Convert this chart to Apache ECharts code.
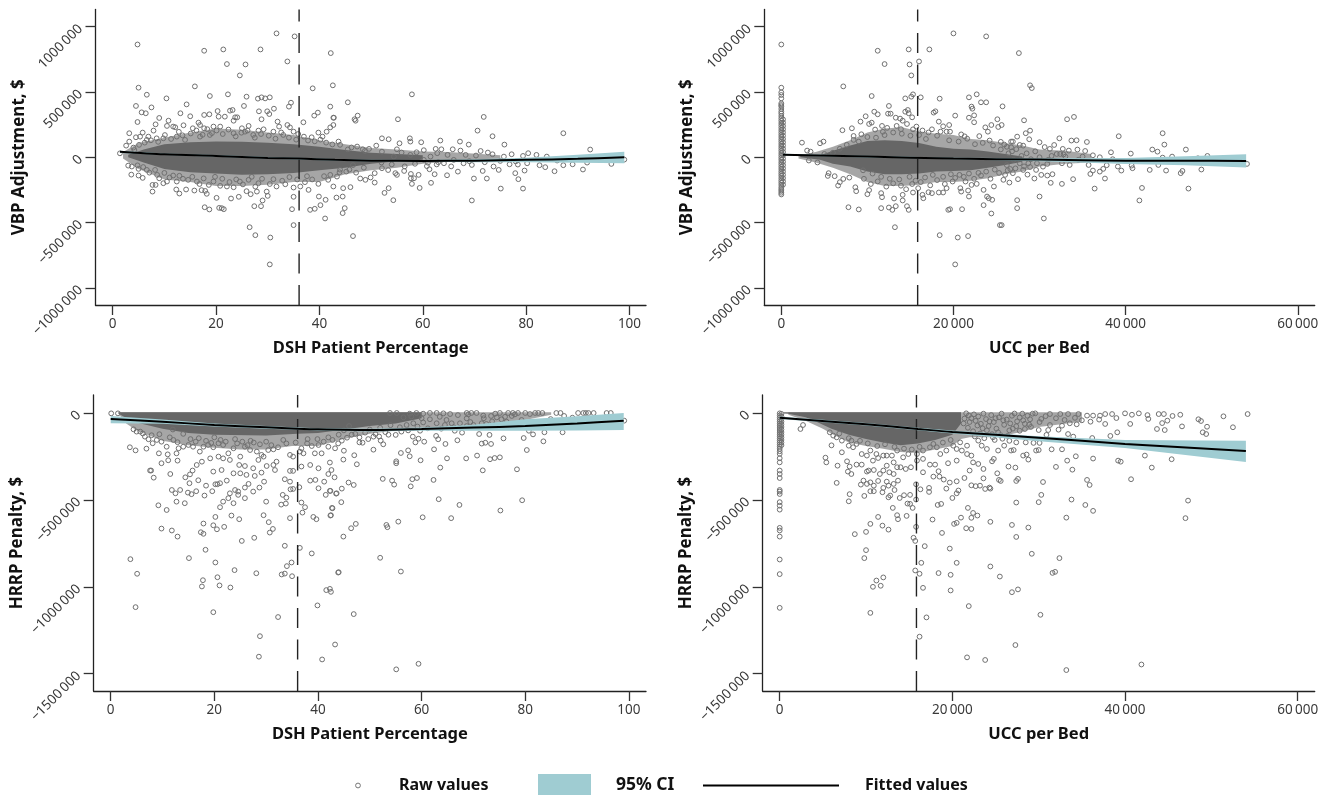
<!DOCTYPE html>
<html><head><meta charset="utf-8"><style>html,body{margin:0;padding:0;background:#fff}#c{width:1329px;height:795px}</style>
<script src="https://cdn.jsdelivr.net/npm/echarts@6/dist/echarts.min.js"></script></head><body><div id="c"></div>
<script>
// Values. Points: [x, y in $ thousands]; UCC x values are in $ thousands.
const dshVbpPoints=[[4.8,864],[5,533],[6.6,479],[7.5,382],[4.5,393],[5.6,344],[6.4,337],[4.8,270],[10.4,451],[14.3,405],[13.1,337],[15,314],[15.9,543],[17.7,816],[21.4,826],[22.1,714],[25.7,711],[24.6,627],[28.6,826],[31.7,949],[35.2,926],[33.8,734],[42.2,798],[42.6,551],[38.7,528],[18.8,469],[22.3,482],[25.9,464],[25.4,393],[28.1,449],[28.8,459],[29.5,451],[30.4,459],[28.3,352],[29.9,352],[30.3,331],[31.2,372],[34.1,388],[34.5,418],[42.1,388],[39,319],[39.7,342],[42.7,303],[57.9,482],[45.5,421],[42.8,303],[47.4,319],[46.8,291],[47,280],[55.2,291],[71.8,309],[70.6,204],[73.5,161],[75.8,97],[87.2,184],[92.4,59],[52.1,145],[53.4,138],[57.5,145],[57.6,120],[59.7,115],[63.4,128],[67.2,120],[68.9,97],[69.5,-331],[54.3,-329],[52.6,-273],[53.4,-237],[46.5,-604],[44.5,-428],[44.9,-390],[43.3,-309],[44.5,-301],[44.6,-237],[59.4,-235],[61.6,-196],[75.1,-240],[79.4,-240],[78.5,-168],[77.9,-122],[79.7,-102],[69.9,-163],[72.4,-163],[71.6,-105],[85.5,-107],[91,-94],[96.5,-51],[99,-18],[30.4,-821],[26.5,-536],[27.6,-597],[30.5,-615],[35,-520],[41.1,-469],[34.7,-398],[21.5,-398],[21.1,-390],[20.6,-388],[18.7,-400],[17.8,-383],[38.2,-403],[39.1,-395],[40.2,-367],[41.2,-326],[39.9,-301],[35,-303],[27.4,-375],[28.7,-375],[29,-331],[30,-296],[20.1,-311],[22.9,-316],[24.4,-303],[7.7,-263],[7.7,-212],[8.3,-212],[3.6,-133],[5,-140],[5.8,-158],[12.3,-247],[12.9,-278],[14.2,-247],[15.8,-255],[17.2,-252],[18.2,-280],[17.9,-258],[25.9,-260],[26.7,-283],[27.9,-263],
[1.4,30],[2.6,89],[3.2,120],[3.2,184],[4,74],[4.5,153],[5.3,158],[5.8,189],[6.9,158],[7.9,204],[8.3,252],[9,301],[10.5,240],[10.8,280],[11.7,235],[12.1,230],[13.7,245],[15.5,222],[16.6,265],[17.7,324],[18.7,329],[20.3,354],[20.5,311],[21.7,311],[22.7,357],[23.2,362],[23.7,306],[24.1,306],[23.4,280],[25,222],[26.3,240],[28.2,204],[29.2,214],[28.8,291],[31.9,273],[32.2,235],[33.8,247],[34.3,229],[36.9,268],[37,158],[38.5,153],[39.8,189],[40.6,158],[41.4,196],[42.1,229],[42.7,247],[19.5,235],[20.8,235],[23.4,184],[25.6,196],[27.2,171],[31.1,196],[33,171],[35,196],[35.9,178],[17.7,222],[16.9,247],[6.6,133],[8.5,145],[9.8,145],[12.4,158],[14,133],[16.9,158],[18.8,171],
[3,-64],[3.7,-71],[5,-89],[6.6,-97],[8.2,-97],[9,-161],[9.8,-199],[10.5,-186],[11.7,-140],[12.4,-186],[14.6,-173],[16.3,-186],[19.5,-186],[20.8,-219],[22.1,-224],[23.4,-230],[24.6,-186],[26.3,-173],[28.2,-199],[29.8,-263],[31.7,-224],[33.4,-207],[35,-232],[36.3,-224],[37.2,-191],[37.9,-250],[39.8,-204],[41.7,-173],[42.7,-224],[43.4,-148],[46,-229],[47.9,-163],[48.9,-173],[49.9,-155],[50.7,-194],[50.7,-122],[52.1,-84],[55,-135],[54.7,-122],[57.7,-128],[57.7,-161],[58.3,-161],[57.9,-204],[59.2,-135],[61.3,-92],[62.3,-130],[64.7,-138],[66.8,-110],[69.5,-59],[74.7,-97],[73.7,-71],[76.8,-54],[78.4,-56],[80.2,-46],[83.7,-76],[82.6,-61],[87.2,-61],[89,-54],[91.8,-41],
[47.3,82],[48.4,61],[49.6,64],[51,89],[52.1,43],[55,61],[55.5,107],[55.9,36],[58.8,38],[60.2,54],[62.5,64],[63.6,61],[64.8,18],[65.8,61],[67.3,51],[68.3,18],[70.3,13],[71.2,48],[72.6,36],[73.5,23],[75.7,5],[77.2,23],[79.4,10],[80.4,31],[82,18],[61.5,5],[62.8,31],[57.6,18],[54.4,5],[60.2,-20],[64.1,-46],[67.9,-46],[44,95],[45.5,60],[46.5,-60],[44,-95],[45.2,-110],[52,-40],[54,-55],[56.5,-70],[58.5,-50],[61,-42],[63,-38],[66,-20],[69,-30],[72,-38],[75,-28],[78,-32],[84,5],[86,-25],
[4.2,55],[5.1,95],[6.2,112],[7.4,130],[8.8,118],[10.1,170],[11.3,140],[12.8,195],[13.5,168],[15.1,182],[16.2,205],[17.4,172],[18.3,215],[19.2,185],[20.1,205],[21.3,178],[22.4,212],[23.8,160],[24.9,188],[26.1,205],[27.5,150],[28.7,178],[30.2,165],[31.5,142],[32.6,190],[34.1,150],[35.5,135],[37.8,128],[39.1,122],[40.2,135],[41.3,112],[42.5,98],[43.7,120],[46.2,75],[48.8,48],
[4.8,-62],[5.9,-75],[7.1,-118],[8.6,-135],[10,-120],[11,-155],[12.9,-142],[13.6,-165],[15.4,-150],[16.8,-205],[17.6,-162],[18.6,-212],[19.8,-150],[21.2,-165],[22.6,-190],[23.9,-170],[25.2,-208],[26.9,-150],[27.6,-225],[28.9,-165],[30.4,-205],[31.1,-168],[32.8,-180],[34.2,-152],[35.7,-170],[37.6,-145],[38.6,-170],[40.9,-145],[42.1,-135],[43.9,-115],[45.8,-95],[47.1,-118],[48.6,-80],[53.3,-98],[56.4,-105],[60.8,-68],[62.7,-55],[65.5,-70]];
const dshVbpCoreX=[3,6,10,15,20,25,30,35,40,45,50,55,60];
const dshVbpCoreUp=[20,60,100,115,120,118,112,100,80,55,35,25,15];
const dshVbpCoreLow=[0,-40,-90,-115,-125,-135,-130,-120,-100,-80,-50,-30,-20];
const dshVbpHaloX=[2,5,10,15,20,25,30,35,40,45,50,55,60,65,75];
const dshVbpHaloUp=[40,110,150,190,220,210,190,170,130,100,70,60,45,40,15];
const dshVbpHaloLow=[-10,-90,-170,-190,-220,-220,-210,-190,-190,-130,-100,-80,-50,-35,-20];
const dshVbpFitX=[1.4,10,20,30,36,43,50,60,70,80,90,99];
const dshVbpFitY=[43,23,10,-5,-10,-20,-26,-28,-26,-20,-12,0];
const dshVbpCiUp=[50,29,17,2,-3,-13,-20,-22,-15,-3,20,43];
const dshVbpCiLow=[33,17,3,-12,-17,-27,-32,-34,-38,-38,-42,-46];

const uccVbpPoints=[[0,864],[0,533],[0,497],[0,477],[0,451],[0,413],[0,400],[0,390],[0,370],[0,350],[0,335],[0,316],[0,298],[0,280],[0,262],[0,245],[0,226],[0,208],[0,190],[0,172],[0,155],[0,137],[0,120],[0,102],[0,85],[0,68],[0,50],[0,32],[0,15],[0,-3],[0,-20],[0,-38],[0,-55],[0,-73],[0,-90],[0,-108],[0,-125],[0,-142],[0,-160],[0,-178],[0,-195],[0,-212],[0,-230],[0,-245],[0,-258],[0,-272],[0,-285],
[0.2,290],[0.2,265],[0.2,240],[0.2,215],[0.2,190],[0.2,165],[0.2,140],[0.2,115],[0.2,90],[0.2,65],[0.2,40],[0.2,15],[0.2,-10],[0.2,-35],[0.2,-60],[0.2,-85],[0.2,-110],[0.2,-135],[0.2,-160],[0.2,-185],[0.2,-210],
[11.2,816],[14.8,826],[12,714],[14.9,711],[16,734],[15.1,627],[17.2,826],[20,949],[23.8,926],[7.2,543],[10.5,469],[15.3,482],[15.1,464],[14.4,451],[16.2,459],[18.4,449],[21.8,459],[22.7,482],[23.2,421],[23.8,421],[22.1,388],[22.2,372],[20.2,319],[21.8,303],[22.4,321],[22.4,268],[25.1,291],[23.7,229],[24,196],[24.4,247],[25.2,232],[12.5,393],[12.4,334],[12.7,334],[11.2,329],[10.8,349],[9.8,314],[9.2,273],[10.2,255],[10.5,265],[11.7,240],[7.1,207],[8.2,222],[4.9,120],[4.5,107],[2.4,112],[3,51],[3.4,43],[9.3,176],[8.4,163],[8.4,133],[14.4,349],[14.7,362],[14.8,337],[15.2,306],[14.1,280],[13.3,303],[13.8,296],[15.3,214],[17.7,342],[17.9,352],[18.3,273],[18.8,237],[19.5,247],[17.5,214],[18.5,196],[19.2,196],[19.6,196],
[20.2,-821],[13.2,-536],[18.4,-597],[20.5,-615],[21.7,-604],[25.4,-520],[24.4,-431],[23.5,-367],[21,-398],[19.6,-398],[19.4,-403],[7.8,-383],[9,-400],[11.6,-390],[12.5,-385],[12.9,-403],[13.3,-375],[14.6,-375],[14.8,-403],[13.1,-316],[14.1,-331],[14.1,-288],[11.7,-306],[11.6,-275],[10.2,-252],[10,-283],[8.7,-260],[8.6,-230],[6.6,-217],[5.4,-143],[5.5,-122],[6.2,-145],[6.8,-191],[7.2,-166],[7.9,-156],[16.5,-314],[16.4,-288],[15.3,-270],[15.9,-237],[17.1,-268],[17.5,-275],[18.3,-270],[18.8,-270],[19.2,-237],[19.9,-186],[20.9,-263],[20.8,-237],[21.8,-301],[21.7,-255],[21.4,-186],[22.1,-212],[22.7,-204],[23.5,-250],[23.9,-301],[24.1,-314],[24.5,-326],[24.7,-224],
[54.1,-51],[49.5,10],[48.8,-94],[48.4,-8],[47.3,-240],[47,59],[46.6,-105],[46.4,-122],[45.4,5],[44.7,-102],[44.5,97],[44.3,184],[44.3,-3],[43.8,-59],[43.7,43],[43.1,59],[42.8,-97],[41.9,-235],[41.6,-331],[40.8,-84],[40.7,-64],[40.6,28],[39.5,-102],[39.1,-71],[39.2,161],[38.3,38],[38.5,-15],[37.8,-61],[37.6,-163],[37.4,-89],[37,-110],[36.4,-240],[36.2,-102],[35.9,-128],[35.5,117],[35.3,48],[34.4,59],[34.3,130],[33.7,128],[34,309],[33.2,291],[33.9,-168],[32.6,-204],[31.5,-130],[31.3,-196],[30.9,-140],[30,-301],[30.5,-469],[32.3,145],[31.7,94],[32.7,64],[31.2,64],[30,115],[28.9,204],[28.4,184],[28.8,138],[28.2,283],[27.4,158],[25.7,390],[25.6,247],[27.6,798],[28.9,551],[29.1,530],[27.4,-329],[27.4,-390],[25.6,-520],[29.4,-163],[30.2,-135],[28.6,-133],[27.5,-168],[26.5,-194],[25.8,-173],[26.7,120],[26.9,120],[25.9,97],[27.7,94],[28.1,89],[26.7,76],[28.5,30],[30,0],[31.4,10],[32,25],[32.4,25],[33,5],[33.4,51],[36.2,15],[37,0],[35.7,-59],[33.5,-59],[32.6,-46],[30.9,-51],[29.7,-46],[28.7,-46],[27.7,-46],[26.9,-122],[26,-135],[28.1,-97],[29.6,-97],[26.4,30],[27,-20],[27.9,10],[29,-15],[26.2,-60],[26.6,-90],[25.5,60],[26.8,45],[28.2,-70],[31,-20],[34.5,-20],[35,5],
[3.2,-25],[4.2,-40],[5,25],[6,35],[6.8,65],[7.6,95],[9,120],[10,155],[11,150],[12,170],[13,190],[14,180],[15,165],[16,170],[16.8,140],[19.5,130],[20.6,120],[21.3,160],[22.5,100],[23.4,110],[24.6,90],[9.5,-100],[10.6,-125],[11.6,-150],[12.6,-165],[13.7,-170],[14.9,-150],[15.6,-180],[16.7,-155],[17.6,-135],[18.8,-150],[19.7,-130],[20.7,-135],[21.8,-125],[22.9,-120],[23.8,-110],[24.8,-95],
[10.9,212],[11.8,195],[12.3,225],[13.4,240],[13.9,215],[14.6,255],[15.7,235],[16.4,205],[17.1,190],[18.1,165],[20.9,175],[21.6,142],[23,162],[24.2,128],[25.5,118],[26.2,80],[27.3,62],[29.5,45],[30.6,78],[32.8,22],[9.6,-165],[10.4,-205],[11.2,-185],[12.2,-225],[13,-200],[13.9,-218],[14.5,-245],[15.2,-205],[16.2,-190],[17.3,-215],[18.1,-175],[19,-205],[20.2,-158],[21.2,-150],[22.4,-165],[23.2,-140],[24.3,-165],[25.3,-120],[26.3,-100],[27.2,-85],[28.9,-75],[30.4,-72]];
const uccVbpCoreX=[2.2,4.5,6,8,10,12,14,16,18,20,22,24,26,28];
const uccVbpCoreUp=[10,15,50,90,125,130,125,110,80,65,60,45,25,5];
const uccVbpCoreLow=[0,-20,-50,-70,-110,-130,-130,-125,-110,-105,-100,-80,-60,-35];
const uccVbpHaloX=[2,4,6,8,10,12,14,16,18,20,22,24,26,28,30,33,36];
const uccVbpHaloUp=[15,40,80,130,190,220,230,200,180,170,140,130,110,90,60,50,25];
const uccVbpHaloLow=[-10,-40,-80,-130,-190,-220,-220,-210,-190,-190,-180,-160,-130,-110,-70,-50,-40];
const uccVbpFitX=[0.2,10,20,30,40,47,54];
const uccVbpFitY=[20,5,-10,-18,-26,-27,-28];
const uccVbpCiUp=[26,11,-4,-8,-5,8,23];
const uccVbpCiLow=[14,-1,-16,-30,-51,-62,-79];

const dshHrrpPoints=[[0.1,-2],[1.4,-2],[3.7,-197],[4.8,-215],[6.9,-205],[7.8,-331],[7.6,-331],[8.3,-372],[3.8,-841],[5.1,-925],[4.8,-1117],[9.2,-531],[10.8,-558],[9.8,-665],[11.8,-676],[12.9,-711],[15.1,-835],[11.5,-351],[9.8,-289],[11.1,-272],[12.9,-274],[9.3,-232],[11,-238],[12.7,-232],[11.8,-443],[12.5,-462],[13.4,-443],[12.7,-510],[14.3,-519],[14.9,-458],[15.6,-467],[16.5,-450],[14.4,-370],[15.3,-353],[15.8,-331],[15.2,-404],[16.9,-387],[18.4,-418],[18.1,-475],[19.6,-450],[20.2,-410],[20.6,-410],[21.1,-404],[22.4,-389],[17.9,-636],[17.4,-686],[17.9,-695],[18.3,-787],[19.8,-646],[20.2,-598],[20.5,-669],[21.9,-655],[23.3,-590],[24.8,-611],[25.3,-736],[27.7,-718],[29.5,-588],[30.5,-628],[30.7,-688],[31.3,-667],[30,-510],[32.9,-527],[33.2,-471],[33.8,-521],[33.9,-487],[34.6,-605],[20.2,-860],[23.9,-904],[28.1,-922],[20.6,-945],[17.8,-962],[17.6,-998],[21,-992],[23.1,-1004],[33,-929],[33.6,-924],[34,-881],[34.9,-860],[35,-939],[33.6,-764],[36.5,-776],[38.8,-808],[43.9,-918],[41.6,-1019],[42.3,-1012],[42.5,-1029],[39.9,-1107],[19.8,-1146],[32.3,-1174],[28.8,-1284],[28.6,-1402],[40.8,-1418],[43.3,-1332],
[55.1,-1475],[59.4,-1443],[46.9,-1157],[44,-916],[52,-833],[56,-912],[44.9,-711],[46.4,-663],[47.3,-638],[53.2,-644],[53.4,-657],[55.5,-625],[60.2,-600],[65.7,-605],[63.3,-496],[67.3,-529],[75.2,-561],[79.4,-502],[42.8,-548],[42.5,-588],[44.5,-513],[44.6,-435],[43.5,-464],[42.3,-448],[45.9,-400],[46.9,-414],[52.5,-379],[54.3,-389],[54.7,-412],[57.9,-422],[58.2,-381],[59.1,-374],[62.3,-385],[63.6,-314],[71.8,-330],[78.4,-324],[64.9,-261],[68.6,-261],[70.7,-245],[73.2,-266],[74.1,-259],[75.1,-255],[59.8,-272],[57.7,-249],[55.1,-278],[55.1,-289],[56,-230],[57.4,-215],[47.5,-295],[47,-243],[44.9,-268],[50.7,-211],[45,-217],[62.4,-209],[80.3,-213],[83.5,-163],[75.8,-146],[79.7,-144],[81.5,-123],[83.7,-111],[87.2,-111],[73.4,-178],[72.3,-171],[71.6,-176],[66.9,-157],[64.6,-178],[60.5,-165],[59.4,-148],[58.8,-169],[52.6,-180],[52.1,-159],[48,-169],[48.6,-171],[44.6,-159],
[86,0],[86.8,0],[87.5,-17],[89.1,-27],[90.2,0],[91.2,0],[91.7,0],[92.2,0],[93.2,0],[95.7,0],[96.5,0],[99.1,-44],[84.9,-35],[83.3,0],[82.5,0],[81.9,0],[80.9,-6],[80,0],[78.6,0],[77.6,0],[76.7,0],[75.1,0],[74.2,-4],[73.4,-17],[71.9,-15],[70.6,0],[69.6,0],[68.7,0],
[4.4,-94],[5,-107],[5.7,-107],[6.6,-136],[7.3,-151],[8.1,-174],[8.9,-155],[9.8,-165],[10.8,-194],[12.1,-155],[13.1,-203],[14,-194],[15,-184],[15.9,-194],[17.2,-222],[17.9,-194],[18.8,-184],[19.8,-197],[20.8,-174],[21.7,-184],[22.7,-232],[23.7,-203],[25,-251],[25.9,-194],[26.9,-213],[28.2,-222],[29.1,-241],[30.4,-213],[31.4,-209],[32.3,-197],[33.3,-155],[34.6,-241],[35.2,-251],[36.8,-203],[37.2,-232],[36.5,-222],[39.4,-232],[40.1,-184],[40.7,-232],[42,-194],[43.3,-203],
[16.6,-299],[17.6,-280],[19.2,-261],[20.8,-251],[21.7,-261],[23,-270],[24.8,-299],[25.9,-305],[27.5,-318],[28.5,-270],[29.5,-251],[30.1,-305],[31.4,-299],[32,-280],[31.7,-328],[34.6,-333],[35.2,-333],[36.8,-308],[38.5,-299],[40.1,-318],[42.3,-285],[42.6,-328],[19.8,-337],[21.4,-328],[23.7,-347],[25,-347],[26.2,-356],[27.8,-362],[29.1,-343],[33.6,-381],[34.6,-395],[34.7,-439],[35.2,-437],[36.4,-427],[38.5,-389],[39.5,-385],[41.2,-395],[42,-351],[43.2,-370],[40.1,-433],[41.5,-471],[42.4,-448],[43.6,-462],[23,-462],[24,-443],[24.6,-452],[25.9,-429],[26.6,-408],[27.5,-452],[28.7,-429],[29.6,-395],[25.9,-490],[24.6,-471],[22.7,-490],[21.7,-510],[21.1,-542],[23.7,-519],[36.8,-515],[37.5,-542],[37,-573],[39.1,-598],[39.7,-611],[42.4,-590],[42.7,-546],
[49.1,-113],[50.7,-136],[51.1,-121],[55,-126],[56.1,-107],[58.3,-136],[59.7,-102],[62.8,-132],[63.2,-151],[66.4,-102],[67.8,-113],[71.1,-121],[73.1,-126],[80.7,-102],[57.1,-69],[58.4,-59],[60.3,-54],[61.6,-36],[62.9,-59],[64.5,-69],[64.8,-40],[65.8,-59],[67.4,-59],[68.7,-75],[70,-69],[71.6,-59],[72.5,-63],[75.4,-36],[76.4,-50],[79.3,-40],[77.4,-17],[68.7,-31],[65.5,-6],[64.2,-2],[62.9,0],[61.6,0],[60.3,-4],[59,0],[57.7,-4],[55.2,0],[53.9,0],[56.5,-25],[58,-20],[60,-30],[63.5,-22],[67,-12],[69,-8],[72,-30],[74.5,-25],[78,-8],[45,-100],[46.5,-125],[48,-140],[50,-95],[52,-85],[53,-110],[54,-70],[46,-75],[44,-125],[42,-140],[38,-150],[27,-160],[24,-150],[12,-95],[14,-120],[17,-145],[20,-140],
[6.2,-118],[7.9,-128],[9.4,-122],[11.4,-140],[12.9,-168],[15.4,-150],[16.4,-165],[18.4,-160],[19.4,-172],[21.2,-155],[22.2,-165],[24.4,-175],[25.4,-165],[26.4,-185],[27.6,-170],[28.8,-180],[30,-165],[31,-185],[33.9,-175],[35.7,-170],[37.9,-175],[38.8,-190],[39.9,-150],[41.1,-165],[42.8,-155],[43.9,-175],[45.6,-142],[47.2,-120],[49.7,-150],[51.8,-135],[53.6,-125],[55.8,-82],[57.4,-100],[59.2,-78],[61.2,-88],[63.8,-90],[66.2,-82],[69.4,-52],[73.6,-48],[76.1,-22]];
const dshHrrpCoreX=[1.5,3,5,10,15,20,30,36,40,45,50,55,60];
const dshHrrpCoreUp=[4,4,4,4,4,4,4,4,4,4,4,4,4];
const dshHrrpCoreLow=[-3,-30,-55,-90,-115,-125,-130,-120,-115,-95,-75,-60,-30];
const dshHrrpHaloX=[1.5,3,5,10,15,20,25,30,35,40,45,50,55,60,70,80,85];
const dshHrrpHaloUp=[4,4,4,4,4,4,4,4,4,4,4,4,4,4,4,4,4];
const dshHrrpHaloLow=[-5,-60,-100,-160,-185,-200,-210,-210,-190,-190,-150,-120,-100,-90,-70,-40,-10];
const dshHrrpFitX=[0,10,20,30,36,40,50,60,70,80,90,99];
const dshHrrpFitY=[-34,-50,-69,-82,-90,-94,-98,-92,-84,-75,-60,-44];
const dshHrrpCiUp=[-17,-38,-60,-75,-84,-87,-90,-84,-68,-36,-18,0];
const dshHrrpCiLow=[-59,-62,-78,-90,-96,-101,-106,-102,-102,-102,-100,-98];

const uccHrrpPoints=[[0,-284],[0,-331],[0,-351],[0,-374],[0,-443],[0,-452],[0,-466],[0,-513],[0,-533],[0,-556],[0,-661],[0,-676],[0,-711],[0,-843],[0,-927],[0,-1121],[0,-2],[0,-14],[0,-26],[0,-38],[0,-50],[0,-62],[0,-74],[0,-86],[0,-98],[0,-110],[0,-122],[0,-134],[0,-146],[0,-158],[0,-170],[0,-182],[0,-194],[0,-206],[0,-220],[0,-235],[0,-260],
[0.2,-5],[0.2,-20],[0.2,-35],[0.2,-50],[0.2,-65],[0.2,-80],[0.2,-95],[0.2,-110],[0.2,-125],[0.2,-140],[0.2,-155],[0.2,-170],[0.2,-185],
[2.4,-92],[2.7,-69],[5.3,-257],[5.4,-284],[6,-186],[6.7,-303],[6.6,-402],[7.8,-278],[8.1,-308],[7.9,-337],[8.3,-351],[8.1,-467],[8,-508],[8.7,-697],[10,-684],[10.5,-638],[11.4,-598],[11.9,-648],[12.6,-671],[10,-789],[9.8,-835],[12,-946],[11.2,-964],[10.8,-1000],[11.7,-994],[10.5,-1150],[13.1,-546],[13.6,-588],[13.7,-611],[14.7,-592],[14.4,-473],[15.1,-471],[13.9,-489],[14.8,-521],[15.1,-523],[15.4,-546],[15.8,-498],[15.8,-410],[15.8,-655],[15.5,-718],[15.7,-736],[16.8,-766],[16.4,-862],[15.7,-906],[16.2,-925],[16.6,-1006],[17,-1176],[16.2,-1287],[18.4,-921],[19.8,-931],[19.8,-1021],[19.7,-780],[20.5,-862],[21.9,-1111],[21.7,-1406],[23.8,-1421],[24.4,-883],[25.5,-941],[21.6,-663],[22.2,-667],[21,-602],[20.2,-638],[20.5,-632],[21.8,-546],[22.2,-603],[22.4,-575],[22.9,-590],[24.4,-626],[17.7,-613],[18.8,-690],[18.3,-529],[18.7,-523],[20,-489],[20.5,-462],[20.7,-446],[19.3,-435],[17.3,-454],[17.3,-431],[16.3,-439],[19,-383],[19.7,-400],[20.5,-393],[21.4,-374],[22.2,-416],[22.7,-421],[23.2,-418],[23.8,-437],[24.3,-429],[24.4,-435],[23.6,-376],[25.2,-347],[25.4,-385],
[9.8,-477],[10.5,-450],[10.9,-450],[9.4,-412],[9.7,-389],[10.1,-408],[10.5,-399],[10.9,-418],[11.4,-391],[11.9,-456],[12,-431],[12.4,-395],[12.6,-418],[13.3,-443],[13.2,-408],[13.7,-389],[12.6,-485],[12.8,-475],[9.5,-297],[8.9,-297],[10.1,-337],[10.3,-331],[10.9,-328],[11.6,-351],[12,-331],[12.7,-341],[13.2,-351],[10.8,-274],[11.4,-259],[12,-245],[12.4,-303],[13.2,-284],[13.6,-312],[14,-312],[14.6,-322],[15.2,-312],[15.9,-274],[16.6,-264],[16.6,-341],[17.4,-297],[18,-297],[17.8,-366],[18.4,-335],[18.5,-366],[19.5,-289],[20.5,-274],[22,-331],[22.4,-284],[23,-293],[23.6,-322],[24.6,-278],[24.8,-264],[25.3,-216],
[54.2,-6],[51.4,-19],[52.5,-82],[49.5,-79],[48.8,-46],[48.5,-36],[49,-111],[49.4,-121],[46.6,-77],[46.4,-10],[45.5,-17],[44.9,-44],[44.6,-98],[44.3,-58],[44.5,-6],[43.9,-6],[43.7,-92],[42.7,-34],[42.6,-12],[41.6,-2],[40.8,-10],[40.6,-63],[40,-2],[39,-29],[38.5,-6],[39.1,-111],[38.3,-132],[37.7,-63],[37.7,-6],[37.1,-15],[36.3,-15],[35.6,-15],[34.6,-6],[34.4,-65],[33.6,-59],[33.4,-6],[32.5,-6],[32.7,-73],[32.3,-96],[33.4,-121],[34,-136],[36.2,-144],[31.3,-6],[31.3,-69],[31.1,-98],[30.9,-126],[30.3,-34],[30,-98],[29.6,-2],[28.9,-67],[28.4,-92],[27.8,-102],[42.3,-245],[45.4,-266],[43.1,-314],[40.7,-381],[47.3,-504],[47,-605],[36.3,-262],[34.3,-249],[33.3,-274],[32,-310],[33.9,-326],[39.2,-274],[39.5,-280],[35.6,-385],[35.9,-414],[30.5,-397],[27.6,-379],[27.4,-391],[26.5,-308],[27.3,-314],[25.6,-391],[30.3,-471],[30,-513],[27.4,-515],[33.8,-498],[35.4,-529],[36.3,-563],[33.2,-602],[26.9,-644],[28.8,-659],[27.4,-713],[29.2,-810],[32.4,-835],[31.6,-920],[31.9,-914],[26.9,-1031],[27.6,-1015],[30.2,-1161],[27.3,-1335],[33.2,-1479],[41.9,-1447],[31.5,-209],[32.7,-209],[30,-213],[29.7,-216],[29.4,-172],[30.1,-172],[28.5,-169],[28.2,-245],[28.6,-239],[28.8,-268],[27.1,-213],[26.8,-216],[27.4,-169],[26,-188],
[5.8,-111],[6.2,-130],[6.6,-140],[7.2,-159],[7.2,-226],[8,-188],[8.5,-197],[8.3,-159],[8.9,-178],[9.5,-236],[10.1,-245],[10.5,-216],[11.2,-236],[12.4,-245],[13,-245],[13.6,-216],[14.3,-255],[14.9,-236],[15.9,-236],[16.6,-216],[17.4,-197],[18.2,-197],[18.6,-236],[19.3,-216],[20.1,-188],[20.5,-207],[21.1,-216],[21.7,-236],[22.2,-245],[20.9,-169],[21.7,-188],[23,-159],[23.4,-188],[24,-207],[24.7,-140],[25.3,-111],
[21.6,-2],[21.9,-14],[22.2,-30],[22.5,-8],[22.7,-45],[23,-20],[23.3,-62],[23.6,-4],[23.9,-35],[24.2,-75],[24.5,-12],[24.8,-52],[25.1,-90],[25.4,-25],[25.7,-4],[26,-68],[26.3,-38],[26.6,-100],[26.9,-16],[27.2,-3],[27.5,-48],[27.8,-26],[28.1,-4],[28.4,-62],[28.7,-16],[29,-36],[29.3,-4],[21.3,-60],[21.8,-85],[22.4,-105],[23.2,-118],[24,-100],[24.6,-122],[25.6,-128],[26.4,-132],[27,-90],
[21.4,-32],[22,-52],[22.9,-72],[23.5,-88],[24.3,-48],[25,-30],[25.9,-42],[26.7,-60],[27.4,-76],[28.2,-42],[29.1,-80],[30.1,-52],[30.8,-18],[32,-30],[33,-40],[34.2,-28],[35,-42],[36,-50],[37,-38],[22.6,-135],[23.7,-145],[24.9,-155],[25.8,-148],[26.6,-160],[6.9,-118],[8,-145],[9.3,-160],[10.2,-175],[11.3,-190],[12.2,-180],[13.3,-195],[14.4,-205],[15.3,-210],[16.2,-195],[17.8,-178],[18.9,-170],[19.8,-155]];
const uccHrrpCoreX=[0.5,1,2,3,4,6,8,10,12,14,16,18,20,21];
const uccHrrpCoreUp=[4,4,4,4,4,4,4,4,4,4,4,4,4,4];
const uccHrrpCoreLow=[-3,-5,-15,-25,-45,-90,-125,-150,-170,-185,-175,-155,-125,-60];
const uccHrrpHaloX=[1,3,5,6,8,10,12,14,16,18,20,21,22,25,28,30,35];
const uccHrrpHaloUp=[4,4,4,4,4,4,4,4,4,4,4,4,4,4,4,4,4];
const uccHrrpHaloLow=[-10,-45,-90,-120,-170,-190,-205,-225,-230,-210,-190,-150,-140,-140,-110,-80,-50];
const uccHrrpFitX=[0,10,16,20,30,40,54];
const uccHrrpFitY=[-27,-65,-92,-109,-142,-178,-218];
const uccHrrpCiUp=[-20,-58,-85,-100,-134,-155,-159];
const uccHrrpCiLow=[-34,-72,-99,-118,-163,-201,-282];

const dshTickValues=[0,20,40,60,80,100];
const uccTickValues=[0,20000,40000,60000];
const uccTickLabels=['0','20\u2009000','40\u2009000','60\u2009000'];
const vbpTickValues=[-1000000,-500000,0,500000,1000000];
const vbpTickLabels=['\u22121000\u2009000','\u2212500\u2009000','0','500\u2009000','1000\u2009000'];
const hrrpTickValues=[-1500000,-1000000,-500000,0];
const hrrpTickLabels=['\u22121500\u2009000','\u22121000\u2009000','\u2212500\u2009000','0'];
const dshCutoff=36.07, uccCutoff=15840;

const RING='#666666', HALO='rgba(102,102,102,0.58)', TEAL='#9FCCD2', INK='#222222', TEXT='#3a3a3a';
const FONT='"Noto Sans","Open Sans",sans-serif';

const panels=[
 {g:{left:95.5,top:9.5,width:550.5,height:295.5},x:[-3.33,103.2],y:[-1132000,1132000],xT:dshTickValues,xL:dshTickValues.map(String),yT:vbpTickValues,yL:vbpTickLabels,xName:'DSH Patient Percentage',yName:'VBP Adjustment, $',xs:1,cut:dshCutoff,pts:dshVbpPoints,cx:dshVbpCoreX,cu:dshVbpCoreUp,cl:dshVbpCoreLow,hx:dshVbpHaloX,hu:dshVbpHaloUp,hl:dshVbpHaloLow,fx:dshVbpFitX,fy:dshVbpFitY,up:dshVbpCiUp,lo:dshVbpCiLow},
 {g:{left:764.3,top:9.5,width:550.4,height:295.5},x:[-1975,61965],y:[-1132000,1132000],xT:uccTickValues,xL:uccTickLabels,yT:vbpTickValues,yL:vbpTickLabels,xName:'UCC per Bed',yName:'VBP Adjustment, $',xs:1000,cut:uccCutoff,pts:uccVbpPoints,cx:uccVbpCoreX,cu:uccVbpCoreUp,cl:uccVbpCoreLow,hx:uccVbpHaloX,hu:uccVbpHaloUp,hl:uccVbpHaloLow,fx:uccVbpFitX,fy:uccVbpFitY,up:uccVbpCiUp,lo:uccVbpCiLow},
 {g:{left:93.7,top:395,width:552.3,height:296},x:[-3.28,103.3],y:[-1599500,103600],xT:dshTickValues,xL:dshTickValues.map(String),yT:hrrpTickValues,yL:hrrpTickLabels,xName:'DSH Patient Percentage',yName:'HRRP Penalty, $',xs:1,cut:dshCutoff,pts:dshHrrpPoints,cx:dshHrrpCoreX,cu:dshHrrpCoreUp,cl:dshHrrpCoreLow,hx:dshHrrpHaloX,hu:dshHrrpHaloUp,hl:dshHrrpHaloLow,fx:dshHrrpFitX,fy:dshHrrpFitY,up:dshHrrpCiUp,lo:dshHrrpCiLow},
 {g:{left:762.7,top:395,width:552,height:296},x:[-1970,61970],y:[-1599500,103600],xT:uccTickValues,xL:uccTickLabels,yT:hrrpTickValues,yL:hrrpTickLabels,xName:'UCC per Bed',yName:'HRRP Penalty, $',xs:1000,cut:uccCutoff,pts:uccHrrpPoints,cx:uccHrrpCoreX,cu:uccHrrpCoreUp,cl:uccHrrpCoreLow,hx:uccHrrpHaloX,hu:uccHrrpHaloUp,hl:uccHrrpHaloLow,fx:uccHrrpFitX,fy:uccHrrpFitY,up:uccHrrpCiUp,lo:uccHrrpCiLow}
];

function bandSeries(name,i,xs,top,bottom,fill,z){
  return {name,type:'custom',xAxisIndex:i,yAxisIndex:i,silent:true,z,clip:true,data:[[xs[0],top[0]]],
    renderItem(p,api){
      const a=xs.map((x,k)=>api.coord([x,top[k]]));
      const b=xs.map((x,k)=>api.coord([x,bottom[k]])).reverse();
      return {type:'polygon',shape:{points:a.concat(b)},style:{fill}};
    }};
}
const grid=[],xAxis=[],yAxis=[],series=[];
panels.forEach((p,i)=>{
  grid.push(Object.assign({containLabel:false},p.g));
  const line={onZero:false,lineStyle:{color:INK,width:1.3}};
  const tick={length:10,lineStyle:{color:'#333',width:1.3}};
  xAxis.push({type:'value',gridIndex:i,min:p.x[0],max:p.x[1],splitLine:{show:false},axisLine:{show:true,...line},
    axisTick:{show:true,customValues:p.xT,...tick},
    axisLabel:{show:true,customValues:p.xT,margin:12,color:TEXT,fontFamily:FONT,fontSize:13.5,showMinLabel:true,showMaxLabel:true,hideOverlap:false,
      formatter:v=>p.xL[p.xT.indexOf(v)]},
    name:p.xName,nameLocation:'middle',nameGap:35,nameTextStyle:{fontFamily:FONT,fontWeight:'bold',fontSize:16.5,color:'#111'}});
  yAxis.push({type:'value',gridIndex:i,min:p.y[0],max:p.y[1],splitLine:{show:false},axisLine:{show:true,...line},
    axisTick:{show:true,customValues:p.yT,...tick},
    axisLabel:{show:true,customValues:p.yT,rotate:45,margin:15,color:TEXT,fontFamily:FONT,fontSize:13.5,hideOverlap:false,
      formatter:v=>p.yL[p.yT.indexOf(v)]},
    name:p.yName,nameLocation:'middle',nameRotate:90,nameGap:68,nameTextStyle:{fontFamily:FONT,fontWeight:'bold',fontSize:17,color:'#111'}});
  const sx=p.xs,sy=1000;
  series.push(bandSeries('Moderately dense raw values',i,p.hx.map(v=>v*sx),p.hu.map(v=>v*sy),p.hl.map(v=>v*sy),HALO,1));
  series.push(bandSeries('Dense raw values',i,p.cx.map(v=>v*sx),p.cu.map(v=>v*sy),p.cl.map(v=>v*sy),RING,2));
  series.push({name:'Raw values',type:'scatter',xAxisIndex:i,yAxisIndex:i,silent:true,z:3,symbol:'circle',symbolSize:4.8,
    itemStyle:{color:'rgba(255,255,255,0)',borderColor:'#707070',borderWidth:1,opacity:1},
    data:p.pts.map(d=>[d[0]*sx,d[1]*sy])});
  series.push({name:'Cutoff',type:'line',xAxisIndex:i,yAxisIndex:i,silent:true,z:4,symbol:'none',
    lineStyle:{color:'#222',width:1.4,type:[20,11.5]},data:[[p.cut,p.y[0]],[p.cut,p.y[1]]]});
  series.push(bandSeries('95% CI',i,p.fx.map(v=>v*sx),p.up.map(v=>v*sy),p.lo.map(v=>v*sy),TEAL,5));
  series.push({name:'Fitted values',type:'line',xAxisIndex:i,yAxisIndex:i,silent:true,z:6,symbol:'none',smooth:0.3,
    lineStyle:{color:'#000',width:2},data:p.fx.map((x,k)=>[x*sx,p.fy[k]*sy])});
});
const legendFont={fontFamily:FONT,fontWeight:'bold',fontSize:16,fill:'#111'};
const graphic=[
 {type:'circle',shape:{cx:358,cy:785.5,r:2.4},style:{fill:'#fff',stroke:'#777',lineWidth:1}},
 {type:'text',left:399,top:777,style:Object.assign({text:'Raw values'},legendFont)},
 {type:'rect',shape:{x:538,y:774,width:53,height:21},style:{fill:TEAL}},
 {type:'text',left:616,top:776,style:Object.assign({text:'95% CI'},legendFont,{fontSize:17.5})},
 {type:'line',shape:{x1:703,y1:785.5,x2:839,y2:785.5},style:{stroke:'#000',lineWidth:2}},
 {type:'text',left:865,top:777,style:Object.assign({text:'Fitted values'},legendFont)}
];
const chart=echarts.init(document.getElementById('c'),null,{renderer:'canvas'});
chart.setOption({animation:false,backgroundColor:'#fff',tooltip:{show:false},grid,xAxis,yAxis,series,graphic});
</script></body></html>
